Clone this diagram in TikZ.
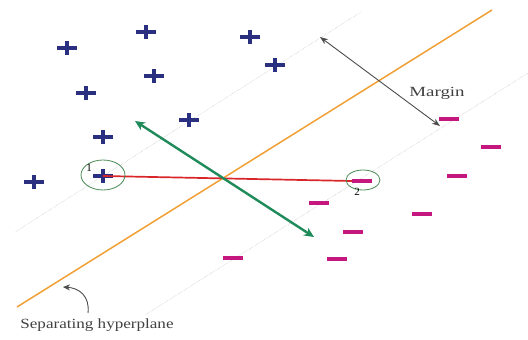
\documentclass[tikz,border=0pt]{standalone}
\usepackage{graphicx}
\usepackage{fontspec}
\setmainfont{Liberation Serif}
\usetikzlibrary{arrows.meta,positioning,shapes.geometric}
\definecolor{plusblue}{HTML}{2B2F80}
\definecolor{minuspink}{HTML}{C4187F}
\definecolor{planeorange}{HTML}{F0A035}
\definecolor{normgreen}{HTML}{1F8A5A}
\definecolor{ringgreen}{HTML}{4A8A55}
\definecolor{distred}{HTML}{D9262A}
\tikzset{
  plusmark/.style = {minimum width=20pt, minimum height=14pt, inner sep=0pt,
    path picture={\draw[plusblue, line width=3.4pt]
      (path picture bounding box.west) -- (path picture bounding box.east)
      (path picture bounding box.north) -- (path picture bounding box.south);}},
  minusmark/.style = {minimum width=20pt, minimum height=3.2pt, inner sep=0pt, fill=minuspink},
  ring/.style = {draw=ringgreen, thick, ellipse, inner sep=0pt},
  guide/.style = {draw=gray!65, densely dotted, thin},
  lbl/.style = {font=\fontsize{14}{16}\selectfont, text=black!75, inner sep=0pt},
  arrow/.style = {thick, <->, >=Stealth}
}
\begin{document}
\begin{tikzpicture}[x=1pt, y=-1pt]
  \useasboundingbox (0,0) rectangle (528,340);
  % margins and hyperplane
  \coordinate (upA) at (15,232);
  \coordinate (upB) at (361,12);
  \coordinate (loA) at (145,315);
  \coordinate (loB) at (528,73);
  \coordinate (hpA) at (17,307);
  \coordinate (hpB) at (492,10);
  \draw[guide] (upA) -- (upB);
  \draw[guide] (loA) -- (loB);
  \draw[planeorange, line width=1.5pt] (hpA) -- (hpB);
  % points
  \foreach \x/\y [count=\i] in {67/48, 146/32, 250/37, 154/76, 86/93, 275/65, 189/120, 103/137, 34/182}
    \node[plusmark] (p\i) at (\x,\y) {};
  \foreach \x/\y [count=\i] in {449/119, 491/147, 457/176, 319/203, 422/214, 353/232, 337/259, 233/258}
    \node[minusmark] (m\i) at (\x,\y) {};
  \node[plusmark] (sv1) at (103,176) {};
  \node[minusmark] (sv2) at (362,181) {};
  % distance and normal
  \draw[distred, line width=1.7pt] (sv1.center) -- (sv2.west);
  \node[ring, minimum width=44pt, minimum height=30pt] (c1) at (103,175) {};
  \node[ring, minimum width=34pt, minimum height=20pt] (c2) at (363,180) {};
  \node[font=\fontsize{11}{11}\selectfont, inner sep=0pt] (n1) at (89,168) {1};
  \node[font=\fontsize{11}{11}\selectfont, inner sep=0pt] (n2) at (357,192) {2};
  \coordinate (wA) at (135,121);
  \coordinate (wB) at (314,237);
  \draw[normgreen, line width=2.4pt, <->, >={Stealth[length=10pt, width=9pt]}] (wA) -- (wB);
  % margin
  \coordinate (mgA) at (320,37);
  \coordinate (mgB) at (440,126);
  \draw[black!70, line width=0.9pt, <->, >={Stealth[length=8pt, width=6pt]}] (mgA) -- (mgB);
  \node[lbl] (margin) at (437,93) {\scalebox{1.35}[1]{Margin}};
  \node[lbl] (sep) at (97,325) {\scalebox{1.22}[1]{Separating hyperplane}};
  \coordinate (hpTip) at (63,287);
  \coordinate (hpTail) at (88,313);
  \draw[black!70, line width=0.9pt, -{Stealth[length=7pt, width=6pt]}] (hpTail) .. controls (90,296) and (79,288) .. (hpTip);
\end{tikzpicture}
\end{document}
